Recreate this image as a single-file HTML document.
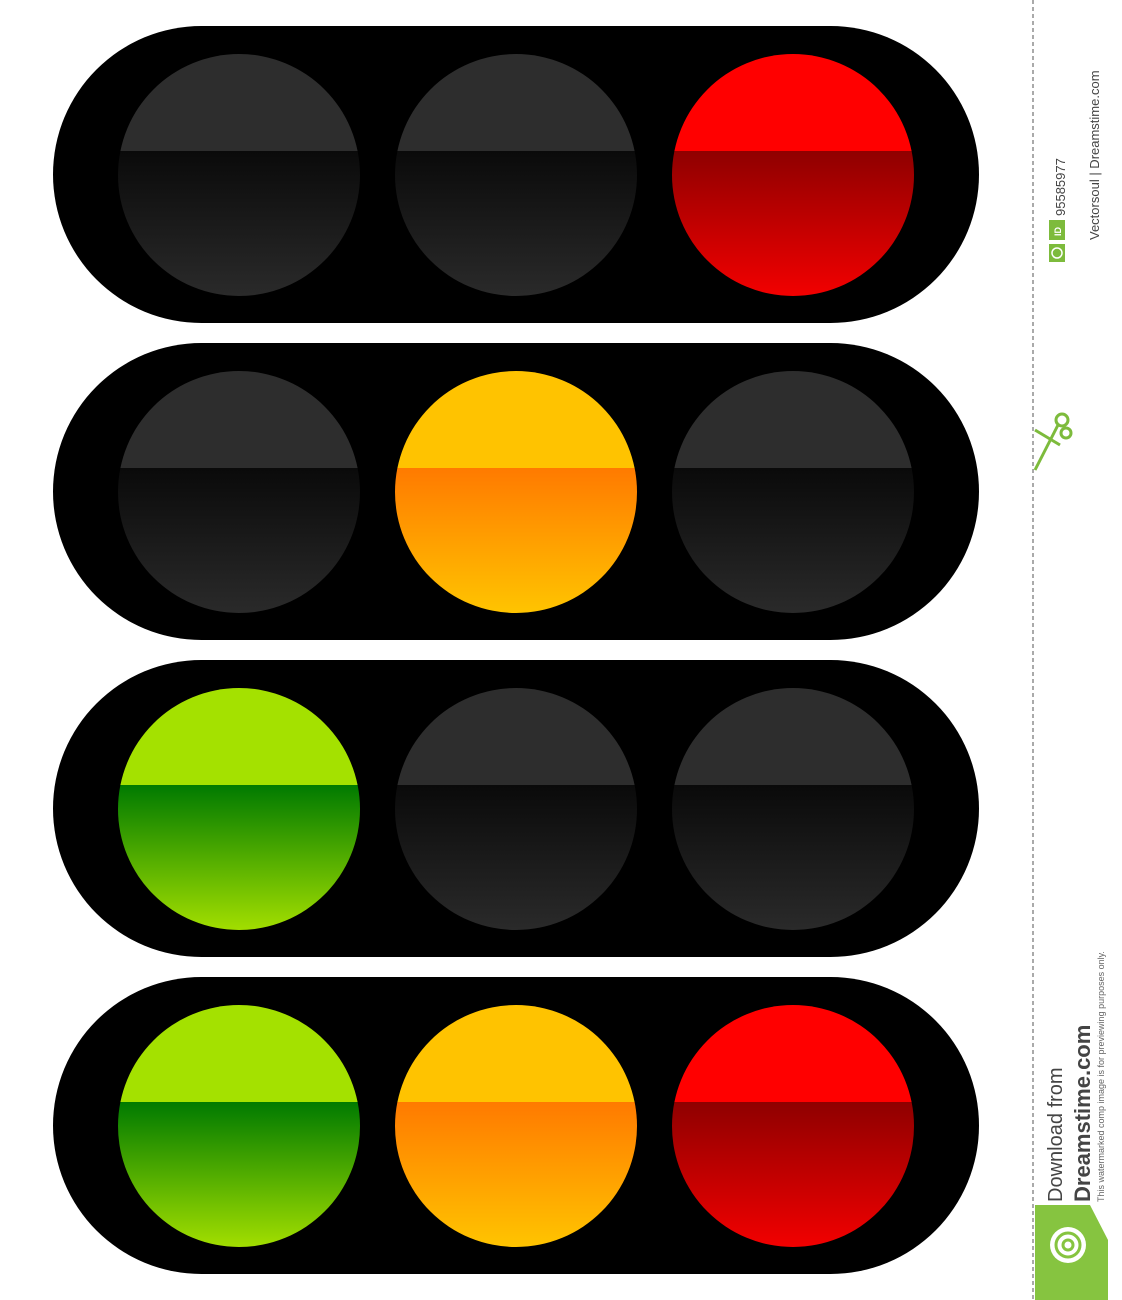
<!DOCTYPE html>
<html><head><meta charset="utf-8"><style>
html,body{margin:0;padding:0;background:#fff;}
svg{display:block;}
</style></head><body>
<svg id="c" width="1122" height="1300" viewBox="0 0 1122 1300" xmlns="http://www.w3.org/2000/svg" font-family="Liberation Sans, sans-serif">
<defs>
<linearGradient id="gOff" x1="0" y1="0" x2="0" y2="1"><stop offset="0" stop-color="#0a0a0a"/><stop offset="1" stop-color="#2a2a2a"/></linearGradient>
<linearGradient id="gRed" x1="0" y1="0" x2="0" y2="1"><stop offset="0" stop-color="#8f0000"/><stop offset="1" stop-color="#f20000"/></linearGradient>
<linearGradient id="gYel" x1="0" y1="0" x2="0" y2="1"><stop offset="0" stop-color="#ff7a00"/><stop offset="1" stop-color="#ffc400"/></linearGradient>
<linearGradient id="gGrn" x1="0" y1="0" x2="0" y2="1"><stop offset="0" stop-color="#007a00"/><stop offset="1" stop-color="#a2de00"/></linearGradient>
</defs>
<g id="lights"></g>
<line x1="1033" y1="0" x2="1033" y2="1300" stroke="#555" stroke-width="1" stroke-dasharray="4,3"/>
<g>
<rect x="1049" y="220" width="16" height="20" fill="#7dbb3c"/>
<text x="0" y="0" transform="translate(1061,236) rotate(-90)" font-size="9" fill="#fff" font-weight="bold">ID</text>
<text x="0" y="0" transform="translate(1065,216) rotate(-90)" font-size="13" fill="#444">95585977</text>
<rect x="1049" y="244" width="16" height="18" fill="#7dbb3c"/>
<circle cx="1057" cy="253" r="5" fill="none" stroke="#fff" stroke-width="1.5"/>
<text x="0" y="0" transform="translate(1099,240) rotate(-90)" font-size="13" fill="#444">Vectorsoul | Dreamstime.com</text>
</g>
<g stroke="#7dbb3c" stroke-width="3" fill="none">
<line x1="1035" y1="470" x2="1058" y2="425"/><line x1="1035" y1="430" x2="1060" y2="445"/>
<circle cx="1062" cy="420" r="6"/><circle cx="1066" cy="433" r="5"/>
</g>
<g>
<polygon points="1035,1205 1090,1205 1108,1240 1108,1300 1035,1300" fill="#86c440"/>
<circle cx="1068" cy="1245" r="18" fill="#fff"/>
<circle cx="1068" cy="1245" r="12" fill="none" stroke="#86c440" stroke-width="3"/>
<circle cx="1068" cy="1245" r="5" fill="none" stroke="#86c440" stroke-width="3"/>
<text x="0" y="0" transform="translate(1062,1202) rotate(-90)" font-size="20" fill="#444">Download from</text>
<text x="0" y="0" transform="translate(1090,1202) rotate(-90)" font-size="22" font-weight="bold" fill="#444">Dreamstime.com</text>
<text x="0" y="0" transform="translate(1104,1202) rotate(-90)" font-size="9" fill="#666">This watermarked comp image is for previewing purposes only.</text>
</g>
</svg>
<script>
const states = [["off","off","red"],["off","yellow","off"],["green","off","off"],["green","yellow","red"]];
const panelTops = [26,343,660,977];
const colors = {off:["#2d2d2d","url(#gOff)"],red:["#ff0000","url(#gRed)"],yellow:["#ffc300","url(#gYel)"],green:["#a4e100","url(#gGrn)"]};
const NS="http://www.w3.org/2000/svg";
const g=document.getElementById('lights');
const lampX=[239,516,793], R=121;
states.forEach((row,i)=>{
  const top=panelTops[i], cy=top+149;
  const p=document.createElementNS(NS,'rect');
  p.setAttribute('x',53);p.setAttribute('y',top);p.setAttribute('width',926);p.setAttribute('height',297);
  p.setAttribute('rx',148.5);p.setAttribute('fill','#000');
  
  
  g.appendChild(p);
  row.forEach((s,j)=>{
    const cx=lampX[j];
    const clipId='cl'+i+'_'+j;
    const cp=document.createElementNS(NS,'clipPath');cp.setAttribute('id',clipId);
    const cc=document.createElementNS(NS,'circle');cc.setAttribute('cx',cx);cc.setAttribute('cy',cy);cc.setAttribute('r',R);
    cp.appendChild(cc);g.appendChild(cp);
    const lg=document.createElementNS(NS,'g');
    
    
    lg.setAttribute('clip-path','url(#'+clipId+')');
    const t=document.createElementNS(NS,'rect');
    t.setAttribute('x',cx-R);t.setAttribute('y',cy-R);t.setAttribute('width',2*R);t.setAttribute('height',R-24);t.setAttribute('fill',colors[s][0]);
    const b=document.createElementNS(NS,'rect');
    b.setAttribute('x',cx-R);b.setAttribute('y',cy-24);b.setAttribute('width',2*R);b.setAttribute('height',R+24);b.setAttribute('fill',colors[s][1]);
    lg.appendChild(t);lg.appendChild(b);g.appendChild(lg);
  });
});
</script>
</body></html>
